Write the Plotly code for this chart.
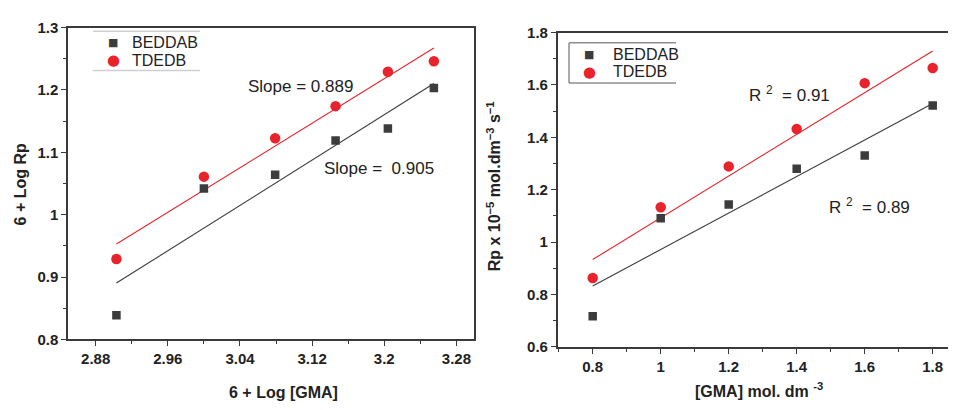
import numpy as np
import plotly.graph_objects as go

# ---- data ----
log_gma = [2.903, 3.000, 3.079, 3.146, 3.204, 3.255]
log_rp_beddab = [0.839, 1.042, 1.064, 1.119, 1.138, 1.203]
log_rp_tdedb = [0.929, 1.061, 1.1225, 1.174, 1.229, 1.246]

gma = [0.8, 1.0, 1.2, 1.4, 1.6, 1.8]
rp_beddab = [0.717, 1.091, 1.144, 1.280, 1.331, 1.522]
rp_tdedb = [0.863, 1.133, 1.289, 1.432, 1.607, 1.665]

series_names = ["BEDDAB", "TDEDB"]
left_labels = ["Slope =  0.905", "Slope = 0.889"]
right_labels = ["R <sup>2</sup>  = 0.89", "R <sup>2</sup>  = 0.91"]

DARK = "#3c3c3c"
RED = "#e8232b"
FONT = "Liberation Sans, Arial, sans-serif"


def fit(x, y):
    k, b = np.polyfit(x, y, 1)
    xs = np.array([min(x), max(x)])
    return xs, k * xs + b


fig = go.Figure()

panels = [
    ("x", "y", log_gma, [log_rp_beddab, log_rp_tdedb]),
    ("x2", "y2", gma, [rp_beddab, rp_tdedb]),
]
styles = [(DARK, "square", 8.5), (RED, "circle", 10.5)]

for xa, ya, xv, ys_list in panels:
    for (col, sym, size), yv in zip(styles, ys_list):
        xs, ys = fit(xv, yv)
        fig.add_trace(go.Scatter(x=xs, y=ys, mode="lines", line=dict(color=col, width=1.1),
                                 showlegend=False, xaxis=xa, yaxis=ya, hoverinfo="skip"))
    for name, (col, sym, size), yv in zip(series_names, styles, ys_list):
        fig.add_trace(go.Scatter(x=xv, y=yv, mode="markers", name=name, showlegend=False,
                                 marker=dict(color=col, symbol=sym, size=size),
                                 xaxis=xa, yaxis=ya))

OFF = 8  # page body margin
W, H = 956 - 2 * OFF, 410 - 2 * OFF


def px(v):
    return (v - OFF) / W


def py(v):
    return 1 - (v - OFF) / H


def note(x, y, text, font, xanchor="center", **kw):
    fig.add_annotation(x=px(x), y=py(y), xref="paper", yref="paper", text=text,
                       showarrow=False, xanchor=xanchor, yanchor="middle", font=font, **kw)


axis_common = dict(showgrid=False, zeroline=False, showline=True, linecolor="#3a3a3a",
                   linewidth=1.5, ticks="outside", ticklen=5, tickwidth=1.2, tickcolor="#3a3a3a",
                   tickfont=dict(family=FONT, size=15, color="#222", weight="bold"))

x2_left = 557.7
x2_right = OFF + W
fig.update_layout(
    width=W, height=H, margin=dict(l=0, r=0, t=0, b=0),
    paper_bgcolor="white", plot_bgcolor="white",
    font=dict(family=FONT, color="#222"),
    showlegend=False,
    xaxis=dict(domain=[px(68), px(474)], range=[2.8493, 3.2995], tick0=2.88, dtick=0.08,
               mirror=True, anchor="y",
               minor=dict(ticks="outside", ticklen=3, dtick=0.04, tick0=2.88, tickcolor="#3a3a3a"),
               **axis_common),
    yaxis=dict(domain=[py(345), py(19)], range=[0.8, 1.3], tick0=0.8, dtick=0.1,
               mirror=True, anchor="x",
               minor=dict(ticks="outside", ticklen=3, dtick=0.05, tick0=0.8, tickcolor="#3a3a3a"),
               **axis_common),
    xaxis2=dict(domain=[px(x2_left), 1.0],
                range=[0.8 - (592.7 - x2_left) / 340, 1.8 + (x2_right - 932.7) / 340],
                tick0=0.8, dtick=0.2, mirror=True, anchor="y2",
                minor=dict(ticks="outside", ticklen=3, dtick=0.1, tick0=0.8, tickcolor="#3a3a3a"),
                **axis_common),
    yaxis2=dict(domain=[py(352.7), py(24.3)], range=[0.6, 1.8], tick0=0.6, dtick=0.2,
                mirror=False, anchor="x2",
                minor=dict(ticks="outside", ticklen=3, dtick=0.1, tick0=0.6, tickcolor="#3a3a3a"),
                **axis_common),
)

# legend frames
fig.add_shape(type="line", xref="paper", yref="paper", x0=px(93), x1=px(200), y0=py(23), y1=py(23),
              line=dict(color="#cfcfcf", width=1.5))
fig.add_shape(type="line", xref="paper", yref="paper", x0=px(93), x1=px(200), y0=py(64), y1=py(64),
              line=dict(color="#cfcfcf", width=1.5))
fig.add_shape(type="path", xref="paper", yref="paper",
              path=f"M {px(676)} {py(35)} L {px(569)} {py(35)} L {px(569)} {py(77)} L {px(676)} {py(77)}",
              line=dict(color="#555", width=1))

# legend entries (glyph + text)
leg_font = dict(family=FONT, size=16, color="#222")
glyphs = [("\u25A0", DARK, 11), ("\u25CF", RED, 15)]
for (gx, tx, ys) in [(113, 130, (35, 53)), (589, 611, (46.7, 65.3))]:
    for (g, col, gs), name, yy in zip(glyphs, series_names, ys):
        note(gx, yy, g, dict(family="DejaVu Sans", size=gs, color=col))
        note(tx, yy, name, leg_font, xanchor="left")

# annotations
ann_font = dict(family=FONT, size=17, color="#222")
note(246, 81, left_labels[1], ann_font, xanchor="left")
note(322, 166, left_labels[0], ann_font, xanchor="left")
note(747, 88, right_labels[1], ann_font, xanchor="left")
note(827, 205, right_labels[0], ann_font, xanchor="left")

title_font = dict(family=FONT, size=16, color="#222", weight="bold")
note(283, 400, "6 + Log [GMA]", title_font)
note(20, 183, "6 + Log Rp", title_font, textangle=-90)
note(759, 398, "[GMA] mol. dm <sup>-3</sup>", title_font)
note(494, 185, "Rp x 10<sup>\u22125</sup> mol.dm<sup>\u22123</sup> s<sup>\u22121</sup>",
     title_font, textangle=-90)

fig.write_html("out.html")
